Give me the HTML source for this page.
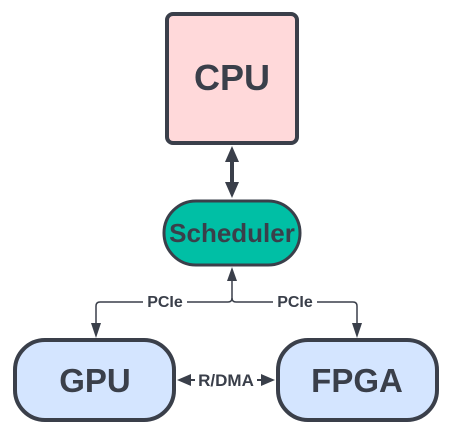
<!DOCTYPE html>
<html><head><style>
body{margin:0;background:#fff;}
svg text{font-family:"Liberation Sans",sans-serif;font-weight:bold;fill:#3a3f4a;}
</style></head><body>
<svg width="450" height="436" viewBox="0 0 450 436">
<rect x="167" y="14" width="130" height="129" rx="6" fill="#ffd9da" stroke="#3a3f4a" stroke-width="4"/>
<text x="232" y="90" font-size="36" text-anchor="middle">CPU</text>
<line x1="232" y1="160" x2="232" y2="184" stroke="#3a3f4a" stroke-width="4"/>
<polygon points="232,146 225,162 239,162" fill="#3a3f4a"/>
<polygon points="232,198 225,182 239,182" fill="#3a3f4a"/>
<rect x="164" y="201" width="136" height="64" rx="32" fill="#00bfa5" stroke="#3a3f4a" stroke-width="3"/>
<text x="232" y="242" font-size="26" text-anchor="middle">Scheduler</text>
<path d="M232 278 V298 Q232 302 228 302 H100 Q96 302 96 306 V325" fill="none" stroke="#3a3f4a" stroke-width="1.5"/>
<path d="M232 298 Q232 302 236 302 H353 Q357 302 357 306 V325" fill="none" stroke="#3a3f4a" stroke-width="1.5"/>
<polygon points="232,267 227,281 237,281" fill="#3a3f4a"/>
<polygon points="96,338 91,323 101,323" fill="#3a3f4a"/>
<polygon points="357,338 352,323 362,323" fill="#3a3f4a"/>
<rect x="143" y="292" width="44" height="18" fill="#fff"/>
<rect x="273" y="292" width="44" height="18" fill="#fff"/>
<text x="165" y="307" font-size="16" text-anchor="middle">PCIe</text>
<text x="295" y="307" font-size="16" text-anchor="middle">PCIe</text>
<rect x="15" y="340" width="159" height="80" rx="30" fill="#d4e5ff" stroke="#3a3f4a" stroke-width="4"/>
<text x="95" y="392" font-size="33" text-anchor="middle">GPU</text>
<rect x="278" y="340" width="159" height="80" rx="30" fill="#d4e5ff" stroke="#3a3f4a" stroke-width="4"/>
<text x="357" y="392" font-size="33" text-anchor="middle">FPGA</text>
<line x1="186" y1="380" x2="266" y2="380" stroke="#3a3f4a" stroke-width="2"/>
<polygon points="177,380 191,374 191,386" fill="#3a3f4a"/>
<polygon points="275,380 261,374 261,386" fill="#3a3f4a"/>
<rect x="195" y="370" width="62" height="20" fill="#fff"/>
<text x="226" y="386" font-size="17" text-anchor="middle">R/DMA</text>
</svg>
</body></html>
